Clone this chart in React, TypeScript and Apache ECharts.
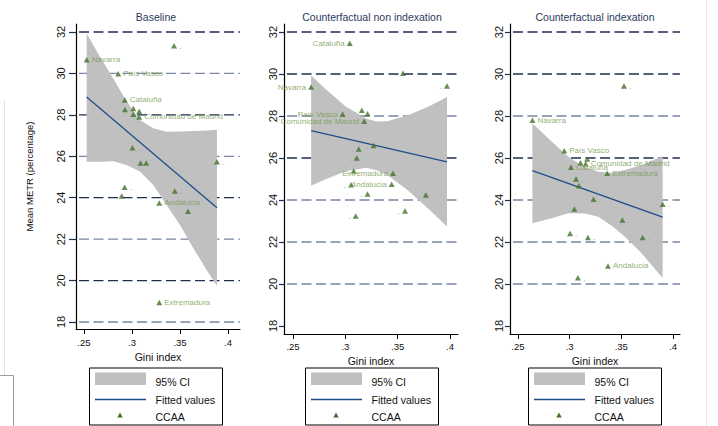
import { useEffect, useRef } from 'react';
import * as echarts from 'echarts';

// ---------- data ----------
const panelTitles = ['Baseline', 'Counterfactual non indexation', 'Counterfactual indexation'];
const xTicks = [0.25, 0.3, 0.35, 0.4];
const yTicks = [18, 20, 22, 24, 26, 28, 30, 32];
const xAxisTitle = 'Gini index';
const yAxisTitle = 'Mean METR (percentage)';
const legendLabels = ['95% CI', 'Fitted values', 'CCAA'];

// Baseline
const baseNames = ['Navarra', 'País Vasco', 'Cataluña', '', '', '', '', 'Comunidad de Madrid', '', '', '', '', '', '', '', '', 'Andalucía', '', 'Extremadura'];
const baseX = [0.2528, 0.2857, 0.2925, 0.2927, 0.3014, 0.3075, 0.3014, 0.3075, 0.3005, 0.309, 0.3148, 0.3438, 0.3885, 0.2924, 0.2893, 0.3446, 0.3284, 0.3584, 0.3284];
const baseY = [30.66, 29.98, 28.72, 28.26, 28.31, 28.18, 28.03, 27.9, 26.41, 25.68, 25.68, 31.34, 25.74, 24.5, 24.08, 24.32, 23.75, 23.35, 18.94];
const baseFitX = [0.2528, 0.3885];
const baseFitY = [28.86, 23.52];
const baseBandX = [0.2528, 0.2667, 0.2805, 0.2944, 0.3083, 0.3222, 0.3361, 0.35, 0.3639, 0.3778, 0.3885];
const baseBandHi = [31.93, 30.81, 29.76, 28.64, 27.75, 27.35, 27.19, 27.2, 27.22, 27.25, 27.28];
const baseBandLo = [25.74, 25.74, 25.76, 25.58, 25.26, 24.61, 23.65, 22.68, 21.56, 20.51, 19.74];
const baseGridVals = [18, 20, 22, 24, 26, 28, 30, 32];
const baseGridTone = ['light', 'dark', 'light', 'dark', 'light', 'dark', 'light', 'dark'];

// Counterfactual non indexation
const nonNames = ['Cataluña', '', 'Navarra', '', 'País Vasco', '', '', 'Comunidad de Madrid', '', '', '', 'Extremadura', '', '', 'Andalucía', '', '', '', ''];
const nonX = [0.3042, 0.3551, 0.2673, 0.3971, 0.2974, 0.3157, 0.3212, 0.318, 0.3269, 0.3128, 0.3109, 0.3455, 0.308, 0.3055, 0.3442, 0.3212, 0.3769, 0.357, 0.3099];
const nonY = [31.46, 30.03, 29.38, 29.43, 28.08, 28.27, 28.11, 27.75, 26.59, 26.43, 26.0, 25.27, 25.38, 24.73, 24.75, 24.28, 24.24, 23.48, 23.24];
const nonFitX = [0.2673, 0.3971];
const nonFitY = [27.3, 25.81];
const nonBandX = [0.2673, 0.28, 0.3, 0.32, 0.33, 0.34, 0.36, 0.38, 0.3971];
const nonBandHi = [29.93, 29.33, 28.47, 27.87, 27.74, 27.75, 28.03, 28.47, 28.9];
const nonBandLo = [24.68, 24.97, 25.37, 25.53, 25.42, 25.19, 24.45, 23.55, 22.74];
const nonGridVals = [20, 22, 24, 26, 28, 30, 32];
const nonGridTone = ['light', 'light', 'light', 'dark', 'light', 'dark', 'dark'];

// Counterfactual indexation
const idxNames = ['', 'Navarra', 'País Vasco', '', '', 'Comunidad de Madrid', 'Cataluña', 'Extremadura', '', '', '', '', '', '', '', '', '', 'Andalucía', ''];
const idxX = [0.3526, 0.264, 0.2948, 0.317, 0.3105, 0.3155, 0.3013, 0.3364, 0.3062, 0.309, 0.3231, 0.3046, 0.39, 0.351, 0.3004, 0.3177, 0.3706, 0.3371, 0.308];
const idxY = [29.43, 27.8, 26.35, 25.95, 25.77, 25.73, 25.56, 25.27, 25.0, 24.68, 24.04, 23.57, 23.8, 23.05, 22.4, 22.22, 22.22, 20.86, 20.3];
const idxFitX = [0.264, 0.39];
const idxFitY = [25.4, 23.18];
const idxBandX = [0.264, 0.2826, 0.2987, 0.3148, 0.3277, 0.3407, 0.3535, 0.3697, 0.39];
const idxBandHi = [27.65, 26.78, 26.06, 25.56, 25.35, 25.3, 25.43, 25.67, 26.1];
const idxBandLo = [22.89, 23.13, 23.37, 23.36, 23.2, 22.77, 22.25, 21.46, 20.28];
const idxGridVals = [20, 22, 24, 26, 28, 30, 32];
const idxGridTone = ['light', 'light', 'light', 'dark', 'light', 'dark', 'dark'];

// ---------- style / layout ----------
const FONT = "'Liberation Sans', Arial, Helvetica, sans-serif";
const MARKER = '#43722a';
const LABEL = '#74984c';
const BAND = '#c0c0c0';
const FIT = '#1f4d8a';
const TONES: Record<string, string> = { dark: '#1f2e52', light: '#7a86a3' };
const TITLE = '#2c3a5e';

const panels = [
  {
    names: baseNames, xs: baseX, ys: baseY, fitX: baseFitX, fitY: baseFitY,
    bandX: baseBandX, bandHi: baseBandHi, bandLo: baseBandLo, gridVals: baseGridVals, gridTone: baseGridTone,
    labelPos: 'right', grid: { left: 76, top: 24, width: 164, height: 305 },
    xMin: 0.2417, xMax: 0.4125, yMin: 17.662, yMax: 32.386,
    titleX: 156, legendLeft: 89.5, tickLen: 7, yLabelMargin: 10, xLabelMargin: 8, xNameGap: 19,
  },
  {
    names: nonNames, xs: nonX, ys: nonY, fitX: nonFitX, fitY: nonFitY,
    bandX: nonBandX, bandHi: nonBandHi, bandLo: nonBandLo, gridVals: nonGridVals, gridTone: nonGridTone,
    labelPos: 'left', grid: { left: 284, top: 24, width: 174, height: 310 },
    xMin: 0.2414, xMax: 0.4076, yMin: 17.619, yMax: 32.381,
    titleX: 372, legendLeft: 305.5, tickLen: 5, yLabelMargin: 5.5, xLabelMargin: 7, xNameGap: 16,
  },
  {
    names: idxNames, xs: idxX, ys: idxY, fitX: idxFitX, fitY: idxFitY,
    bandX: idxBandX, bandHi: idxBandHi, bandLo: idxBandLo, gridVals: idxGridVals, gridTone: idxGridTone,
    labelPos: 'right', grid: { left: 510, top: 24, width: 170, height: 310 },
    xMin: 0.2423, xMax: 0.4068, yMin: 17.619, yMax: 32.381,
    titleX: 595, legendLeft: 528.5, tickLen: 5, yLabelMargin: 6, xLabelMargin: 7, xNameGap: 16,
  },
];

const fmtGini = (v: number) => String(v).replace(/^0/, '');

function textEl(x: number, y: number, text: string, size: number, extra: any = {}) {
  return {
    type: 'text', x, y, silent: true,
    style: {
      text, fill: '#111', fontSize: size, fontFamily: FONT,
      align: 'left', verticalAlign: 'middle', textAlign: 'left', textVerticalAlign: 'middle', ...extra,
    },
  };
}

function legendEls(left: number) {
  const top = 368;
  const cx = left + 30.5;
  return [
    { type: 'rect', silent: true, shape: { x: left, y: top, width: 133, height: 57 }, style: { fill: '#fff', stroke: '#000', lineWidth: 1 } },
    { type: 'rect', silent: true, shape: { x: left + 5.5, y: top + 4.5, width: 51, height: 12.5 }, style: { fill: BAND } },
    { type: 'line', silent: true, shape: { x1: left + 5.5, y1: top + 31.5, x2: left + 56.5, y2: top + 31.5 }, style: { stroke: FIT, lineWidth: 1.3 } },
    { type: 'polygon', silent: true, shape: { points: [[cx - 2.8, top + 49.5], [cx + 2.8, top + 49.5], [cx, top + 44.5]] }, style: { fill: MARKER } },
    textEl(left + 66, top + 14, legendLabels[0], 10.5),
    textEl(left + 66, top + 31.5, legendLabels[1], 10.5),
    textEl(left + 66, top + 49, legendLabels[2], 10.5),
  ];
}

function buildOption() {
  const grid: any[] = [];
  const xAxis: any[] = [];
  const yAxis: any[] = [];
  const series: any[] = [];
  const title: any[] = [];
  const graphics: any[] = [];

  panels.forEach((p, i) => {
    grid.push({ ...p.grid, containLabel: false });
    title.push({
      text: panelTitles[i], left: p.titleX, top: 11, textAlign: 'center', padding: 0,
      textStyle: { fontSize: 10.5, fontWeight: 'normal', color: TITLE, fontFamily: FONT },
    });
    xAxis.push({
      type: 'value', gridIndex: i, min: p.xMin, max: p.xMax,
      axisLine: { show: true, onZero: false, lineStyle: { color: '#000', width: 1 } },
      axisTick: { show: true, length: 5, customValues: xTicks, lineStyle: { color: '#000', width: 1 } },
      axisLabel: { customValues: xTicks, formatter: fmtGini, fontSize: 9.5, color: '#111', margin: p.xLabelMargin, fontFamily: FONT },
      splitLine: { show: false },
      name: xAxisTitle, nameLocation: 'middle', nameGap: p.xNameGap,
      nameTextStyle: { fontSize: 10.5, color: '#111', fontFamily: FONT },
    });
    yAxis.push({
      type: 'value', gridIndex: i, min: p.yMin, max: p.yMax,
      axisLine: { show: true, onZero: false, lineStyle: { color: '#000', width: 1.2 } },
      axisTick: { show: true, length: p.tickLen, customValues: yTicks, lineStyle: { color: TONES.dark, width: 1.2 } },
      axisLabel: { customValues: yTicks, rotate: 90, fontSize: 11, color: '#111', margin: p.yLabelMargin, fontFamily: FONT },
      splitLine: { show: false },
      ...(i === 0
        ? {
            name: yAxisTitle, nameLocation: 'middle', nameGap: 41.5, nameRotate: 90,
            nameTextStyle: { fontSize: 9.5, color: '#111', fontFamily: FONT },
          }
        : {}),
    });

    // dashed reference lines at the tick values
    series.push({
      type: 'custom', xAxisIndex: i, yAxisIndex: i, z: 1, silent: true,
      data: p.gridVals.map((v) => [p.xMin, v]),
      renderItem: (params: any, api: any) => {
        const y = api.value(1);
        const a = api.coord([p.xMin, y]);
        const b = api.coord([p.xMax, y]);
        return {
          type: 'line',
          shape: { x1: a[0] + 3, y1: a[1], x2: b[0], y2: b[1] },
          style: { stroke: TONES[p.gridTone[params.dataIndex]], lineWidth: 1.3, lineDash: [10, 4.5] },
        };
      },
    });

    // 95% CI band
    series.push({
      type: 'custom', name: legendLabels[0], xAxisIndex: i, yAxisIndex: i, z: 2, silent: true,
      data: [[p.bandX[0], p.bandHi[0]]],
      renderItem: (params: any, api: any) => {
        if (params.dataIndex !== 0) return null;
        const pts: number[][] = [];
        p.bandX.forEach((x, k) => pts.push(api.coord([x, p.bandHi[k]])));
        for (let k = p.bandX.length - 1; k >= 0; k--) pts.push(api.coord([p.bandX[k], p.bandLo[k]]));
        return { type: 'polygon', shape: { points: pts }, style: { fill: BAND } };
      },
    });

    // fitted values
    series.push({
      type: 'line', name: legendLabels[1], xAxisIndex: i, yAxisIndex: i, z: 3, silent: true,
      data: p.fitX.map((x, k) => [x, p.fitY[k]]),
      showSymbol: false, symbol: 'none',
      lineStyle: { color: FIT, width: 1.3 },
    });

    // CCAA points
    series.push({
      type: 'scatter', name: legendLabels[2], xAxisIndex: i, yAxisIndex: i, z: 4, silent: true,
      symbol: 'triangle', symbolSize: [6, 5.5],
      itemStyle: { color: MARKER },
      data: p.xs.map((x, k) => ({
        value: [x, p.ys[k]],
        name: p.names[k] || '.',
        label: p.names[k] ? undefined : { fontSize: 9, color: '#8aa86a' },
      })),
      label: {
        show: true, position: p.labelPos, distance: 2, formatter: '{b}',
        fontSize: 8, color: LABEL, fontFamily: FONT,
      },
    });

    graphics.push(...legendEls(p.legendLeft));
  });

  // faint frame lines at the edges of the original figure
  graphics.push(
    { type: 'line', silent: true, shape: { x1: 4.5, y1: 100, x2: 4.5, y2: 375 }, style: { stroke: '#e2e2e2', lineWidth: 1 } },
    { type: 'polyline', silent: true, shape: { points: [[0, 375.5], [13.5, 375.5], [13.5, 426]] }, style: { stroke: '#9c9c9c', fill: null, lineWidth: 1 } },
    { type: 'line', silent: true, shape: { x1: 706.5, y1: 0, x2: 706.5, y2: 426 }, style: { stroke: '#e6e6e6', lineWidth: 1 } },
  );

  return {
    animation: false,
    backgroundColor: '#fff',
    textStyle: { fontFamily: FONT },
    title,
    grid,
    xAxis,
    yAxis,
    series,
    graphic: { elements: graphics },
  };
}

export default function App() {
  const ref = useRef<HTMLDivElement>(null);
  useEffect(() => {
    const chart = echarts.init(ref.current!, undefined, { renderer: 'svg', width: 718, height: 426 });
    chart.setOption(buildOption() as any);
    return () => chart.dispose();
  }, []);
  return (
    <div
      ref={ref}
      style={{ position: 'fixed', left: 0, top: 0, width: 718, height: 426, background: '#fff' }}
    />
  );
}
